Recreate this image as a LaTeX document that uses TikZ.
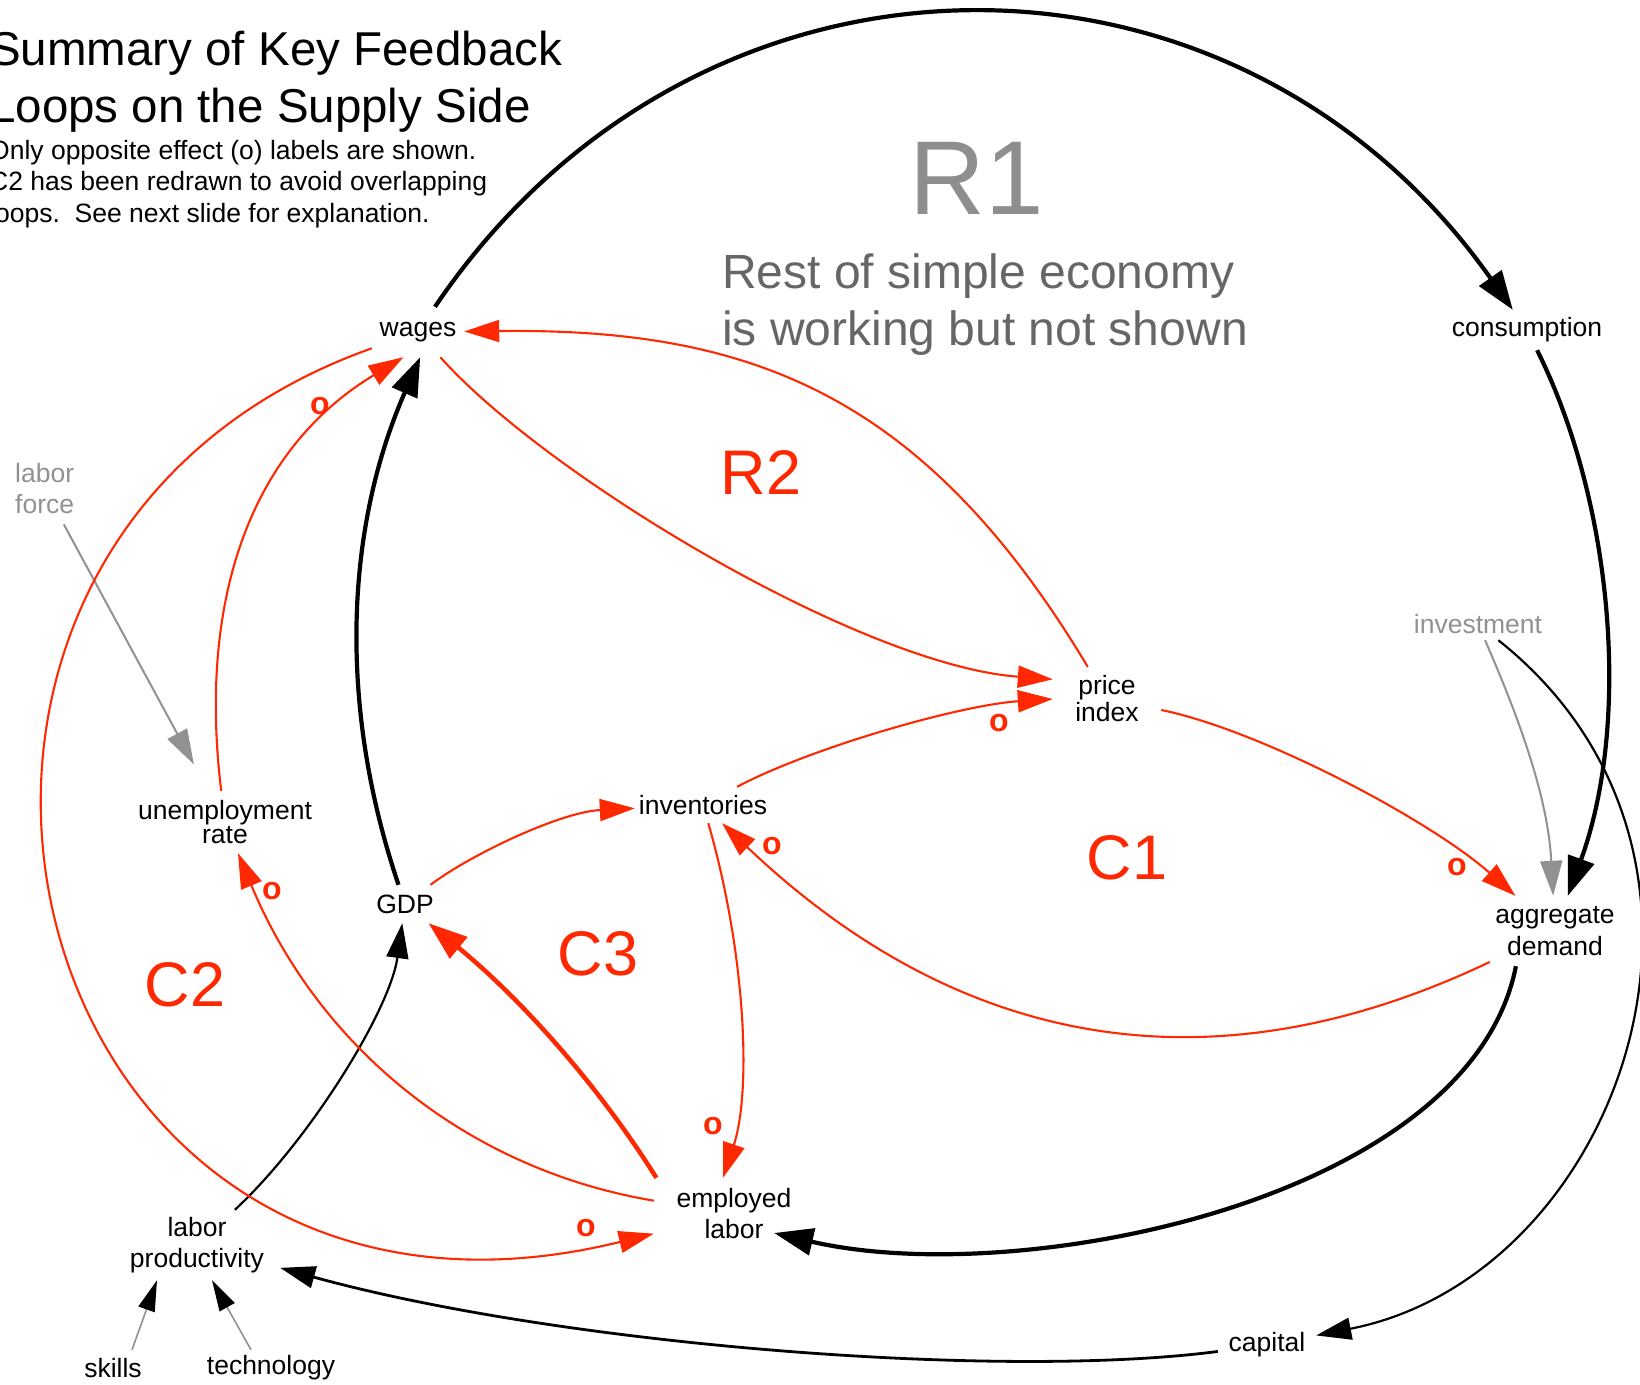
\documentclass[tikz,border=0pt]{standalone}
\usepackage{fontspec}
\setmainfont{Liberation Sans}
\usetikzlibrary{arrows.meta}

\definecolor{loopred}{RGB}{255,40,0}
\definecolor{auxgray}{RGB}{145,145,145}
\definecolor{notegray}{RGB}{102,102,102}
\definecolor{bigloopgray}{RGB}{142,142,142}

\tikzset{
  var/.style={inner sep=0pt, align=center, font=\fontsize{26.5}{31}\selectfont},
  auxvar/.style={var, text=auxgray},
  sign/.style={inner sep=0pt, text=loopred, font=\bfseries\fontsize{32}{32}\selectfont},
  looplabel/.style={inner sep=0pt, anchor=base, text=loopred, font=\fontsize{63}{63}\selectfont},
  titletext/.style={inner sep=0pt, anchor=base west, font=\fontsize{47.5}{57}\selectfont},
  notetext/.style={inner sep=0pt, anchor=base west, font=\fontsize{26.5}{31}\selectfont},
  resttext/.style={inner sep=0pt, anchor=base west, text=notegray, font=\fontsize{48}{57}\selectfont},
  thinhead/.style={-{Triangle[length=35pt,width=22pt]}},
  thickhead/.style={-{Triangle[length=39pt,width=27pt]}},
  thinred/.style={draw=loopred, line width=2.1pt, thinhead},
  thickred/.style={draw=loopred, line width=4.5pt, thickhead},
  thickblack/.style={draw=black, line width=4.2pt, thickhead},
  thinblack/.style={draw=black, line width=2.2pt, thinhead},
  midblack/.style={draw=black, line width=2.8pt, thinhead},
  grayarrow/.style={draw=auxgray, line width=2pt, thinhead},
  graystem/.style={draw=auxgray, line width=1.6pt, -{Triangle[length=31pt,width=17pt,color=black]}},
}

\begin{document}
\begin{tikzpicture}[x=1pt, y=-1pt]
\useasboundingbox (0,0) rectangle (1640,1384);

% heading and notes
\node[titletext] (title1) at (-11,65) {Summary of Key Feedback};
\node[titletext] (title2) at (-11,122) {Loops on the Supply Side};
\node[notetext] (note1) at (-11,159) {Only opposite effect (o) labels are shown.};
\node[notetext] (note2) at (-11,190) {C2 has been redrawn to avoid overlapping};
\node[notetext] (note3) at (-11,222) {loops.\ \ See next slide for explanation.};

% big reinforcing loop caption
\node[inner sep=0pt, anchor=base, text=bigloopgray, font=\fontsize{105}{105}\selectfont] (loopR1) at (977,214) {R1};
\node[resttext] (rest1) at (722,288) {Rest of simple economy};
\node[resttext] (rest2) at (722,345) {is working but not shown};

% loop labels
\node[looplabel] (loopR2) at (761,494) {R2};
\node[looplabel] (loopC1) at (1127,879) {C1};
\node[looplabel] (loopC2) at (185,1006) {C2};
\node[looplabel] (loopC3) at (598,975) {C3};

% variables
\node[var, minimum width=92pt, minimum height=50pt] (wages) at (418,332) {wages};
\node[var, minimum width=170pt, minimum height=40pt] (consumption) at (1527,330) {consumption};
\node[var, minimum width=108pt, minimum height=64pt, font=\fontsize{26.5}{27}\selectfont] (price) at (1107,699) {price\\index};
\node[var, minimum width=136pt, minimum height=36pt] (inventories) at (703,805) {inventories};
\node[var, minimum width=70pt, minimum height=38pt] (gdp) at (405,904) {GDP};
\node[var, minimum width=190pt, minimum height=62pt, font=\fontsize{26.5}{22}\selectfont] (unemp) at (225,822) {unemployment\\rate};
\node[auxvar, align=left, inner ysep=10pt, anchor=west] (laborforce) at (15,489) {labor\\force};
\node[auxvar, minimum width=136pt, minimum height=32pt] (investment) at (1478,624) {investment};
\node[var, minimum width=130pt, minimum height=70pt, font=\fontsize{26.5}{32.5}\selectfont] (demand) at (1555,931) {aggregate\\demand};
\node[var, minimum width=160pt, minimum height=72pt] (employed) at (734,1214) {employed\\labor};
\node[var, minimum width=166pt, minimum height=70pt] (productivity) at (197,1245) {labor\\productivity};
\node[var, minimum width=64pt, minimum height=36pt] (skills) at (113,1368) {skills};
\node[var, minimum width=140pt, minimum height=36pt] (technology) at (271,1368) {technology};
\node[var, minimum width=98pt, minimum height=36pt] (capital) at (1267,1345) {capital};

% demand side (black)
\draw[thickblack] (wages) .. controls (699,-84) and (1235,-84) .. (consumption);
\draw[thickblack] (consumption) .. controls (1612,500) and (1632,720) .. (demand);
\draw[grayarrow] (investment) .. controls (1522,725) and (1548,800) .. (demand);
\draw[thinblack] (investment) .. controls (1771,857) and (1620,1276) .. (capital);
\draw[thickblack] (demand.222) .. controls (1470,1200) and (1020,1290) .. ([xshift=-40pt,yshift=-19pt]employed.east);
\draw[thickblack] (gdp) .. controls (338,706) and (345,529) .. (wages.275);
\draw[thinblack] (productivity) .. controls (310,1140) and (390,1010) .. (gdp);
\draw[midblack] (capital) .. controls (1000,1380) and (560,1345) .. (productivity);
\draw[graystem] ([xshift=19pt]skills.north) -- ([xshift=-40pt]productivity.south);
\draw[graystem] ([xshift=-20pt]technology.north) -- ([xshift=15pt]productivity.south);
\draw[grayarrow, shorten >=30pt] (laborforce) -- (unemp);

% supply side loops (red)
\draw[thinred] (demand) .. controls (1200,1100) and (950,1040) .. (inventories);
\draw[thinred] (price) .. controls (1260,730) and (1430,820) .. (demand);
\draw[thinred] (inventories) .. controls (810,748) and (960,705) .. (price.west);
\draw[thinred] (wages) .. controls (545,475) and (860,665) .. (price.160);
\draw[thinred] (price) .. controls (923,392) and (748,328) .. (wages);
\draw[thinred] (gdp) .. controls (470,855) and (560,812) .. (inventories);
\draw[thinred] (inventories) .. controls (745,950) and (752,1090) .. (employed.107);
\draw[thickred] (employed.155) .. controls (593,1077) and (514,993) .. (gdp);
\draw[thinred] (employed) .. controls (470,1170) and (320,1050) .. (unemp);
\draw[thinred] (unemp) .. controls (198,600) and (250,450) .. (wages.240);
\draw[thinred] (wages) .. controls (-190,548) and (10,1392) .. (employed);

% opposite-effect marks
\node[sign] (signUW) at (320,406) {o};
\node[sign] (signEU) at (272,891) {o};
\node[sign] (signIE) at (713,1126) {o};
\node[sign] (signWE) at (586,1228) {o};
\node[sign] (signDI) at (772,846) {o};
\node[sign] (signIP) at (999,723) {o};
\node[sign] (signPD) at (1457,867) {o};
\end{tikzpicture}
\end{document}
